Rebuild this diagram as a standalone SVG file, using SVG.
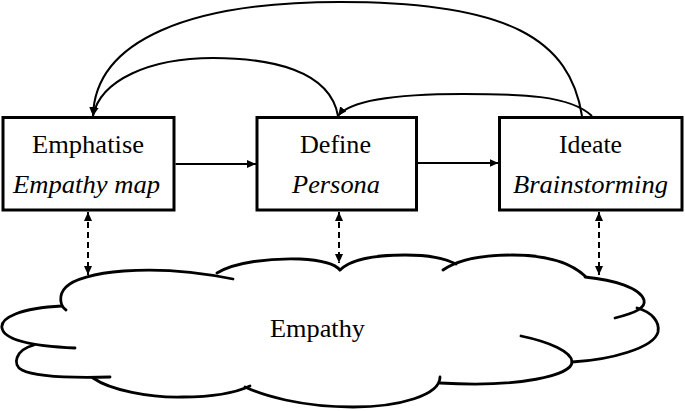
<svg xmlns="http://www.w3.org/2000/svg" width="685" height="411" viewBox="0 0 685 411">
<style>
.box{fill:#fff;stroke:#000;stroke-width:3}
.t{font-family:"Liberation Serif","Times New Roman",serif;font-size:26px;fill:#000;text-anchor:middle}
.i{font-style:italic}
.c{fill:none;stroke:#000;stroke-width:2}
.d{fill:none;stroke:#000;stroke-width:2;stroke-dasharray:6 4}
.cl{fill:none;stroke:#000;stroke-width:2.8;stroke-linecap:round}
</style>
<defs>
<marker id="ah" markerUnits="userSpaceOnUse" markerWidth="10" markerHeight="8" refX="9" refY="4" orient="auto-start-reverse">
<path d="M0,0 L9,4 L0,8 Z" fill="#000"/>
</marker>
</defs>
<g id="cloud">
<path class="cl" d="M62,306 C20,308 0,318 2,328 C4,340 30,346 75,348"/>
<path class="cl" d="M66,310 C60,306 58,295 66,287 C80,272 150,262 233,279"/>
<path class="cl" d="M217,273 C235,262 270,258 300,259 C320,260 335,264 340,270"/>
<path class="cl" d="M340,270 C352,258 380,255 405,255 C425,255 445,258 456,264"/>
<path class="cl" d="M443,270 C460,258 490,255 512,255 C545,255 570,262 585,276"/>
<path class="cl" d="M585,277 C615,280 640,288 644,300 C646,308 635,313 615,318"/>
<path class="cl" d="M637,308 C652,312 660,322 658,332 C654,348 610,360 572,362"/>
<path class="cl" d="M521,336 C550,342 572,352 572,362 C572,375 520,388 440,383"/>
<path class="cl" d="M440,377 C440,395 400,407 353,407 C300,407 262,395 245,387"/>
<path class="cl" d="M93,378 C110,390 150,398 183,397 C210,397 235,393 250,386"/>
<path class="cl" d="M34,345 C15,350 12,365 22,370 C35,377 70,378 110,377"/>
<text class="t" x="317.5" y="337" textLength="95" lengthAdjust="spacingAndGlyphs">Empathy</text>
</g>
<g id="emphatise">
<rect class="box" x="3" y="117.5" width="171" height="92.5"/>
<text class="t" x="88" y="153" textLength="112" lengthAdjust="spacingAndGlyphs">Emphatise</text>
<text class="t i" x="86.5" y="193" textLength="147" lengthAdjust="spacingAndGlyphs">Empathy map</text>
</g>
<g id="define">
<rect class="box" x="257" y="117.5" width="159.5" height="92.5"/>
<text class="t" x="335.5" y="153" textLength="71" lengthAdjust="spacingAndGlyphs">Define</text>
<text class="t i" x="336" y="193" textLength="88" lengthAdjust="spacingAndGlyphs">Persona</text>
</g>
<g id="ideate">
<rect class="box" x="499.5" y="117.5" width="182.5" height="92.5"/>
<text class="t" x="590.5" y="153" textLength="63" lengthAdjust="spacingAndGlyphs">Ideate</text>
<text class="t i" x="590.5" y="193" textLength="155" lengthAdjust="spacingAndGlyphs">Brainstorming</text>
</g>
<g id="connectors">
<path class="c" d="M175.5,164 L256,164" marker-end="url(#ah)"/>
<path class="c" d="M418,163 L498.5,163" marker-end="url(#ah)"/>
<path class="c" d="M582,116 C570,40 510,2 340,2 C190,2 95,40 93,116" marker-end="url(#ah)"/>
<path class="c" d="M338,116 C330,70 270,58 213,58 C150,58 100,80 93,116" marker-end="url(#ah)"/>
<path class="c" d="M592,116 C570,95 520,94 463,94 C400,94 350,100 338,116" marker-end="url(#ah)"/>
<path class="d" d="M88,212 L88,275" marker-start="url(#ah)" marker-end="url(#ah)"/>
<path class="d" d="M339,212 L339,263" marker-start="url(#ah)" marker-end="url(#ah)"/>
<path class="d" d="M599,212 L599,275" marker-start="url(#ah)" marker-end="url(#ah)"/>
</g>
</svg>
